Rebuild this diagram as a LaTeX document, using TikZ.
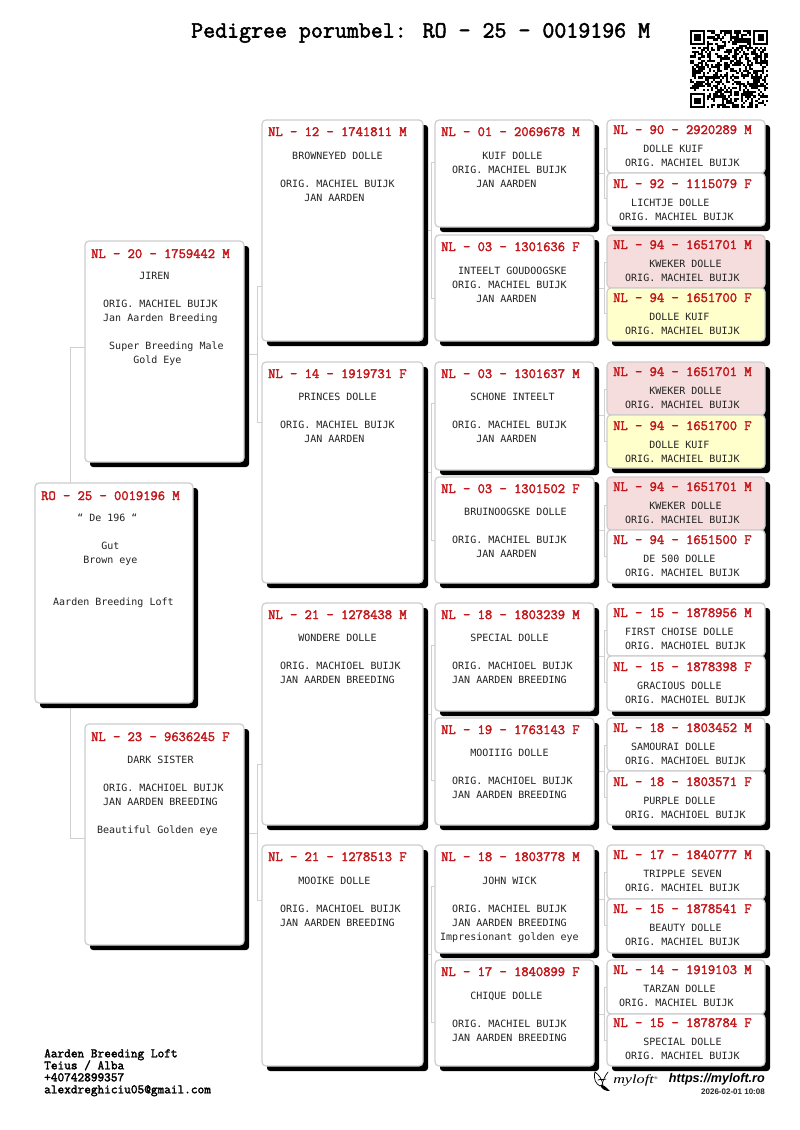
\documentclass[tikz,border=0pt]{standalone}
\usepackage{fontspec}
\usetikzlibrary{calc,backgrounds}
\setmainfont{Liberation Sans}
\newfontfamily\bmono{DejaVu Sans Mono}
\newfontfamily\serifit{Liberation Serif}
\newfontfamily\hmono[FakeBold=2.2]{Latin Modern Mono}
\newcommand\bodyfnt{\bmono\fontsize{10}{14}\selectfont\color{textc}}
\newcommand\I[1]{\hspace*{#1\dimexpr6.02pt\relax}}
\definecolor{redh}{RGB}{196,22,26}
\definecolor{borderc}{RGB}{205,205,205}
\definecolor{linec}{RGB}{208,208,208}
\definecolor{textc}{RGB}{35,35,35}
\definecolor{pinkf}{RGB}{245,221,221}
\definecolor{yellowf}{RGB}{255,255,204}
\tikzset{
  x=1pt,y=-1pt,
  pcard/.style={draw=borderc,line width=1.2pt,rounded corners=4pt,fill=white,inner sep=0pt,outer sep=0pt},
  white card/.style={},
  pink card/.style={fill=pinkf},
  yellow card/.style={fill=yellowf},
  phead/.style={anchor=west,inner sep=0pt,text=redh,font=\hmono\fontsize{14.15}{14}\selectfont,text height=8pt,text depth=0pt},
  pbodyn/.style={anchor=north west,inner sep=0pt,align=left,font=\bodyfnt},
  conn/.style={draw=linec,line width=0.9pt},
  footer/.style={anchor=north west,inner sep=0pt,align=left,font=\hmono\fontsize{12.95}{12}\selectfont}
}
% name,x0,y0,x1,y1,style,header dy,header
\newcommand\pcardn[8]{%
  \node[pcard,#6,minimum width={(#4-#2)*1pt},minimum height={(#5-#3)*1pt}] (#1) at ({(#2+#4)/2},{(#3+#5)/2}) {};
  \node[phead] (#1h) at ({#2+6},{#3+#7}) {#8};
}
% name,x,first line y,lines
\newcommand\pbodyt[4]{\node[pbodyn] (#1t) at (#2,{#3-6}) {\strut #4};}
\newcommand\cshade[2]{\fill[black,rounded corners=3pt] ($(#1.north west)+(5,5)$) rectangle ($(#2.south east)+(5,5)$);}
% parent,c1,c2,bus x,y1,y2,ymid
\newcommand\plink[7]{%
  \draw[conn] (#2.west |- 0,#5) -- (#4,#5) -- (#4,#6) -- (#3.west |- 0,#6);
  \draw[conn] (#1.east |- 0,#7) -- (#4,#7);
}
\begin{document}
\begin{tikzpicture}
\useasboundingbox (0,0) rectangle (800,1130);
\node[anchor=west,inner sep=0pt,font=\hmono\fontsize{23.25}{24}\selectfont,text height=13pt,text depth=0pt] (title) at (191,31) {Pedigree porumbel: RO - 25 - 0019196 M};

% QR code
\begin{scope}[shift={(690,30)}]
  \pgfmathsetseed{19196}
  \foreach \r in {0,...,36}{\foreach \c in {0,...,36}{
    \pgfmathsetmacro\vv{rnd}
    \pgfmathtruncatemacro\inF{((\r<8&&\c<8)||(\r<8&&\c>28)||(\r>28&&\c<8))?1:0}
    \ifnum\inF=0\relax
      \ifdim\vv pt<0.5pt
        \fill[black] ({\c*2.11},{\r*2.11}) rectangle ({(\c+1)*2.11+.1},{(\r+1)*2.11+.1});
      \fi
    \fi
  }}
  \foreach \xx/\yy in {0/0,30/0,0/30}{
    \fill[black] ({\xx*2.11},{\yy*2.11}) rectangle ({(\xx+7)*2.11},{(\yy+7)*2.11});
    \fill[white] ({(\xx+1)*2.11},{(\yy+1)*2.11}) rectangle ({(\xx+6)*2.11},{(\yy+6)*2.11});
    \fill[black] ({(\xx+2)*2.11},{(\yy+2)*2.11}) rectangle ({(\xx+5)*2.11},{(\yy+5)*2.11});
  }
\end{scope}

% generation 0
\pcardn{root}{35}{483}{193}{703}{white card}{13}{RO - 25 - 0019196 M}
\pbodyt{root}{53}{517}{\I4“ De 196 “\\~\\\I8Gut\\\I5Brown eye\\~\\~\\Aarden Breeding Loft}
% generation 1
\pcardn{j}{85}{241}{244}{462}{white card}{13}{NL - 20 - 1759442 M}
\pbodyt{j}{103}{275}{\I6JIREN\\~\\ORIG. MACHIEL BUIJK\\Jan Aarden Breeding\\~\\\I1Super Breeding Male\\\I5Gold Eye}
\pcardn{k}{85}{724}{244}{945}{white card}{13}{NL - 23 - 9636245 F}
\pbodyt{k}{97}{759}{\I5DARK SISTER\\~\\\I1ORIG. MACHIOEL BUIJK\\\I1JAN AARDEN BREEDING\\~\\Beautiful Golden eye}
% generation 2
\pcardn{ga}{262}{120}{423}{341}{white card}{12}{NL - 12 - 1741811 M}
\pbodyt{ga}{280}{155}{\I2BROWNEYED DOLLE\\~\\ORIG. MACHIEL BUIJK\\\I4JAN AARDEN}
\pcardn{gb}{262}{362}{423}{583}{white card}{12}{NL - 14 - 1919731 F}
\pbodyt{gb}{280}{396}{\I3PRINCES DOLLE\\~\\ORIG. MACHIEL BUIJK\\\I4JAN AARDEN}
\pcardn{gc}{262}{603}{423}{825}{white card}{12}{NL - 21 - 1278438 M}
\pbodyt{gc}{280}{637}{\I3WONDERE DOLLE\\~\\ORIG. MACHIOEL BUIJK\\JAN AARDEN BREEDING}
\pcardn{gd}{262}{845}{423}{1066}{white card}{12}{NL - 21 - 1278513 F}
\pbodyt{gd}{280}{880}{\I3MOOIKE DOLLE\\~\\ORIG. MACHIOEL BUIJK\\JAN AARDEN BREEDING}
% generation 3
\pcardn{a}{435}{120}{594}{227}{white card}{12}{NL - 01 - 2069678 M}
\pbodyt{a}{452}{155}{\I5KUIF DOLLE\\ORIG. MACHIEL BUIJK\\\I4JAN AARDEN}
\pcardn{b}{435}{235}{594}{341}{white card}{12}{NL - 03 - 1301636 F}
\pbodyt{b}{452}{270}{\I1INTEELT GOUDOOGSKE\\ORIG. MACHIEL BUIJK\\\I4JAN AARDEN}
\pcardn{c}{435}{362}{594}{470}{white card}{12}{NL - 03 - 1301637 M}
\pbodyt{c}{452}{396}{\I3SCHONE INTEELT\\~\\ORIG. MACHIEL BUIJK\\\I4JAN AARDEN}
\pcardn{d}{435}{477}{594}{583}{white card}{12}{NL - 03 - 1301502 F}
\pbodyt{d}{452}{511}{\I2BRUINOOGSKE DOLLE\\~\\ORIG. MACHIEL BUIJK\\\I4JAN AARDEN}
\pcardn{e}{435}{603}{594}{711}{white card}{12}{NL - 18 - 1803239 M}
\pbodyt{e}{452}{637}{\I3SPECIAL DOLLE\\~\\ORIG. MACHIOEL BUIJK\\JAN AARDEN BREEDING}
\pcardn{f}{435}{718}{594}{825}{white card}{12}{NL - 19 - 1763143 F}
\pbodyt{f}{452}{752}{\I3MOOIIIG DOLLE\\~\\ORIG. MACHIOEL BUIJK\\JAN AARDEN BREEDING}
\pcardn{g}{435}{845}{594}{953}{white card}{12}{NL - 18 - 1803778 M}
\pbodyt{g}{440}{880}{\I7JOHN WICK\\~\\\I2ORIG. MACHIEL BUIJK\\\I2JAN AARDEN BREEDING\\Impresionant golden eye}
\pcardn{h}{435}{960}{594}{1066}{white card}{12}{NL - 17 - 1840899 F}
\pbodyt{h}{452}{995}{\I3CHIQUE DOLLE\\~\\ORIG. MACHIEL BUIJK\\JAN AARDEN BREEDING}
% generation 4
\pcardn{p1}{607}{120}{765}{173}{white card}{10}{NL - 90 - 2920289 M}
\pbodyt{p1}{625}{148}{\I3DOLLE KUIF\\ORIG. MACHIEL BUIJK}
\pcardn{p2}{607}{173}{765}{226}{white card}{11}{NL - 92 - 1115079 F}
\pbodyt{p2}{619}{202}{\I2LICHTJE DOLLE\\ORIG. MACHIEL BUIJK}
\pcardn{p3}{607}{235}{765}{288}{pink card}{10}{NL - 94 - 1651701 M}
\pbodyt{p3}{625}{263}{\I4KWEKER DOLLE\\ORIG. MACHIEL BUIJK}
\pcardn{p4}{607}{288}{765}{341}{yellow card}{10}{NL - 94 - 1651700 F}
\pbodyt{p4}{625}{316}{\I4DOLLE KUIF\\ORIG. MACHIEL BUIJK}
\pcardn{p5}{607}{362}{765}{415}{pink card}{10}{NL - 94 - 1651701 M}
\pbodyt{p5}{625}{390}{\I4KWEKER DOLLE\\ORIG. MACHIEL BUIJK}
\pcardn{p6}{607}{415}{765}{468}{yellow card}{11}{NL - 94 - 1651700 F}
\pbodyt{p6}{625}{444}{\I4DOLLE KUIF\\ORIG. MACHIEL BUIJK}
\pcardn{p7}{607}{477}{765}{530}{pink card}{10}{NL - 94 - 1651701 M}
\pbodyt{p7}{625}{505}{\I4KWEKER DOLLE\\ORIG. MACHIEL BUIJK}
\pcardn{p8}{607}{530}{765}{583}{white card}{10}{NL - 94 - 1651500 F}
\pbodyt{p8}{625}{558}{\I3DE 500 DOLLE\\ORIG. MACHIEL BUIJK}
\pcardn{p9}{607}{603}{765}{656}{white card}{10}{NL - 15 - 1878956 M}
\pbodyt{p9}{625}{631}{FIRST CHOISE DOLLE\\ORIG. MACHOIEL BUIJK}
\pcardn{p10}{607}{656}{765}{711}{white card}{11}{NL - 15 - 1878398 F}
\pbodyt{p10}{625}{685}{\I2GRACIOUS DOLLE\\ORIG. MACHOIEL BUIJK}
\pcardn{p11}{607}{718}{765}{771}{white card}{10}{NL - 18 - 1803452 M}
\pbodyt{p11}{625}{746}{\I1SAMOURAI DOLLE\\ORIG. MACHIOEL BUIJK}
\pcardn{p12}{607}{771}{765}{825}{white card}{11}{NL - 18 - 1803571 F}
\pbodyt{p12}{625}{800}{\I3PURPLE DOLLE\\ORIG. MACHIOEL BUIJK}
\pcardn{p13}{607}{845}{765}{899}{white card}{10}{NL - 17 - 1840777 M}
\pbodyt{p13}{625}{873}{\I3TRIPPLE SEVEN\\ORIG. MACHIEL BUIJK}
\pcardn{p14}{607}{899}{765}{953}{white card}{10}{NL - 15 - 1878541 F}
\pbodyt{p14}{625}{927}{\I4BEAUTY DOLLE\\ORIG. MACHIEL BUIJK}
\pcardn{p15}{607}{960}{765}{1014}{white card}{10}{NL - 14 - 1919103 M}
\pbodyt{p15}{619}{988}{\I4TARZAN DOLLE\\ORIG. MACHIEL BUIJK}
\pcardn{p16}{607}{1014}{765}{1066}{white card}{9}{NL - 15 - 1878784 F}
\pbodyt{p16}{625}{1041}{\I3SPECIAL DOLLE\\ORIG. MACHIEL BUIJK}

% footer
\node[footer] (addr) at (44,1049) {Aarden Breeding Loft\\Teius / Alba\\+40742899357\\alexdreghiciu05@gmail.com};
\node[anchor=east,inner sep=0pt,font=\bfseries\itshape\fontsize{12.6}{14}\selectfont] (url) at (765,1079) {https://myloft.ro};
\node[anchor=east,inner sep=0pt,font=\bfseries\fontsize{8}{10}\selectfont,text=textc] (stamp) at (765,1092) {2026-02-01 10:08};
\node[anchor=west,inner sep=0pt,xscale=1.3,font=\serifit\itshape\fontsize{12.5}{14}\selectfont] (brand) at (613,1080) {myloft\raisebox{4pt}{\fontsize{4}{4}\selectfont ®}};
\begin{scope}[line width=0.7pt,line cap=round,line join=round]
  \draw (595,1072) .. controls (593,1079) and (596,1084) .. (600,1086);
  \draw (595,1072) .. controls (599,1075) and (602,1079) .. (603,1085);
  \draw (608,1072) .. controls (605,1076) and (603,1080) .. (602,1085);
  \draw (598,1080) .. controls (600,1079) and (604,1080) .. (606,1079);
  \fill (600,1085) .. controls (603,1084) and (606,1087) .. (610,1091) .. controls (606,1091) and (602,1090) .. (600,1085);
\end{scope}

\begin{scope}[on background layer]
  \fill[white] (0,0) rectangle (800,1130);
  % connectors
  \draw[conn] (root.north -| 70,0) -- (70,347) -- (j.west |- 0,347);
  \draw[conn] (root.south -| 70,0) -- (70,838) -- (k.west |- 0,838);
  \plink{j}{ga}{gb}{257}{286}{422}{354}
  \plink{k}{gc}{gd}{257}{764}{900}{833}
  \plink{ga}{a}{b}{431}{162}{298}{230}
  \plink{gb}{c}{d}{431}{403}{540}{472}
  \plink{gc}{e}{f}{431}{645}{780}{714}
  \plink{gd}{g}{h}{431}{886}{1022}{954}
  \plink{a}{p1}{p2}{604}{148}{198}{173}
  \plink{b}{p3}{p4}{604}{262}{313}{288}
  \plink{c}{p5}{p6}{604}{389}{441}{415}
  \plink{d}{p7}{p8}{604}{505}{556}{530}
  \plink{e}{p9}{p10}{604}{630}{682}{656}
  \plink{f}{p11}{p12}{604}{745}{797}{771}
  \plink{g}{p13}{p14}{604}{872}{925}{899}
  \plink{h}{p15}{p16}{604}{987}{1040}{1014}
  % shadows
  \cshade{root}{root}\cshade{j}{j}\cshade{k}{k}
  \cshade{ga}{ga}\cshade{gb}{gb}\cshade{gc}{gc}\cshade{gd}{gd}
  \cshade{a}{a}\cshade{b}{b}\cshade{c}{c}\cshade{d}{d}
  \cshade{e}{e}\cshade{f}{f}\cshade{g}{g}\cshade{h}{h}
  \cshade{p1}{p2}\cshade{p3}{p4}\cshade{p5}{p6}\cshade{p7}{p8}
  \cshade{p9}{p10}\cshade{p11}{p12}\cshade{p13}{p14}\cshade{p15}{p16}
\end{scope}
\end{tikzpicture}
\end{document}
